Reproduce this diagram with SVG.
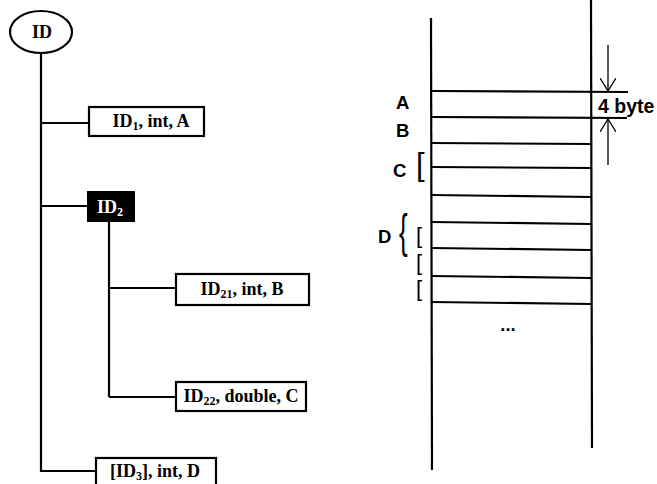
<svg xmlns="http://www.w3.org/2000/svg" width="657" height="484" viewBox="0 0 657 484">
<style>
.ln{stroke:#000;stroke-width:2.2;fill:none}
.box{fill:#fff;stroke:#000;stroke-width:2.2}
.t{font-family:"Liberation Serif",serif;font-weight:bold;font-size:18px;fill:#000;text-anchor:middle}
.s{font-size:12px}
.a{font-family:"Liberation Sans",Arial,sans-serif;font-weight:bold;font-size:18.5px;fill:#000}
.br{font-family:"Liberation Sans",Arial,sans-serif;fill:#000}
</style>
<defs>
<marker id="v" viewBox="0 0 14 16" refX="13" refY="8" markerWidth="14" markerHeight="16" markerUnits="userSpaceOnUse" orient="auto">
<path d="M0,0 L13,8 L0,16" fill="none" stroke="#000" stroke-width="1.3"/>
</marker>
</defs>
<rect width="657" height="484" fill="#fff"/>
<g id="connectors">
<line class="ln" x1="41" y1="53" x2="41" y2="472"/>
<line class="ln" x1="41" y1="123" x2="89" y2="123"/>
<line class="ln" x1="41" y1="206" x2="87" y2="206"/>
<line class="ln" x1="41" y1="471" x2="96" y2="471"/>
<line class="ln" x1="109" y1="222" x2="109" y2="397"/>
<line class="ln" x1="109" y1="288" x2="176" y2="288"/>
<line class="ln" x1="109" y1="397" x2="176" y2="397"/>
</g>
<g id="root">
<ellipse cx="41" cy="32" rx="31" ry="21" class="box"/>
<text class="t" x="42" y="38">ID</text>
</g>
<g id="id1">
<rect class="box" x="89" y="107" width="115" height="29"/>
<text class="t" x="151" y="127">ID<tspan class="s" dy="3">1</tspan><tspan dy="-3">, int, A</tspan></text>
</g>
<g id="id2">
<rect x="87" y="191" width="48" height="31" fill="#000"/>
<text class="t" x="110" y="213" style="fill:#fff">ID<tspan class="s" dy="3">2</tspan></text>
</g>
<g id="id21">
<rect class="box" x="176" y="274" width="133" height="31"/>
<text class="t" x="242" y="295">ID<tspan class="s" dy="3">21</tspan><tspan dy="-3">, int, B</tspan></text>
</g>
<g id="id22">
<rect class="box" x="176" y="382" width="130" height="29"/>
<text class="t" x="241" y="402">ID<tspan class="s" dy="3">22</tspan><tspan dy="-3">, double, C</tspan></text>
</g>
<g id="id3">
<rect class="box" x="96" y="458" width="120" height="30"/>
<text class="t" x="155" y="477">[ID<tspan class="s" dy="3">3</tspan><tspan dy="-3">], int, D</tspan></text>
</g>
<g id="memory">
<line class="ln" x1="431" y1="18" x2="432" y2="470"/>
<line class="ln" x1="591" y1="0" x2="592" y2="448"/>
<line class="ln" x1="431" y1="91" x2="628" y2="92"/>
<line class="ln" x1="431" y1="117" x2="627" y2="118"/>
<line class="ln" x1="431" y1="143" x2="591" y2="144"/>
<line class="ln" x1="431" y1="167" x2="591" y2="168"/>
<line class="ln" x1="431" y1="195" x2="591" y2="197"/>
<line class="ln" x1="431" y1="222" x2="591" y2="224"/>
<line class="ln" x1="431" y1="248" x2="591" y2="250"/>
<line class="ln" x1="431" y1="276" x2="591" y2="278"/>
<line class="ln" x1="431" y1="302" x2="591" y2="304"/>
<line stroke="#000" stroke-width="1.3" x1="608" y1="45" x2="608" y2="91" marker-end="url(#v)"/>
<line stroke="#000" stroke-width="1.3" x1="608" y1="165" x2="608" y2="119" marker-end="url(#v)"/>
<text class="a" x="598" y="113" style="font-size:19.5px">4 byte</text>
<text class="a" x="396" y="109">A</text>
<text class="a" x="396" y="137">B</text>
<text class="a" x="393" y="177">C</text>
<text class="a" x="378" y="243">D</text>
<text class="br" x="416" y="174.5" font-size="31">[</text>
<text class="br" x="416" y="242.5" font-size="22">[</text>
<text class="br" x="416" y="269.5" font-size="22">[</text>
<text class="br" x="416" y="295.5" font-size="22">[</text>
<text class="br" font-size="47" transform="translate(399,247) scale(0.55,1)">{</text>
<text class="a" x="508" y="331" text-anchor="middle">...</text>
</g>
</svg>
